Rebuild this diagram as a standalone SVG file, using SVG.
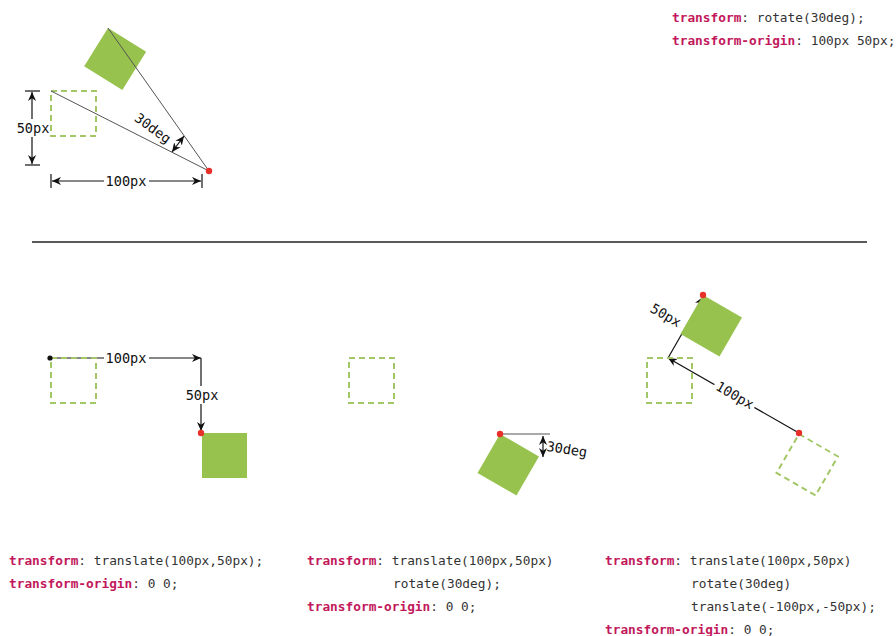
<svg xmlns="http://www.w3.org/2000/svg" width="896" height="636" viewBox="0 0 896 636">
<defs>
<style>
.code{font-family:"DejaVu Sans Mono","Liberation Mono",monospace;font-size:12.8px;fill:#333}
.k{fill:#c2185b;font-weight:bold}
.lbl{font-family:"DejaVu Sans Mono","Liberation Mono",monospace;font-size:13.6px;fill:#111;text-anchor:middle;dominant-baseline:central}
.dash{fill:none;stroke:#a3c766;stroke-width:2;stroke-dasharray:6 4}
.sq{fill:#97c24e}
.thin{stroke:#555;stroke-width:1;fill:none}
.arr{stroke:#111;stroke-width:1.2;fill:none}
.dot{fill:#e8302a}
</style>
<marker id="ah" viewBox="0 0 10 10" refX="10" refY="5" markerWidth="9" markerHeight="9" markerUnits="userSpaceOnUse" orient="auto-start-reverse">
<path d="M0,0.5 L10,5 L0,9.5 L3,5 z" fill="#111"/>
</marker>
</defs>
<rect width="896" height="636" fill="#fff"/>

<g id="top-panel">
<rect class="dash" x="51" y="91" width="45" height="45"/>
<rect class="sq" x="0" y="0" width="45" height="45" transform="translate(108,28) rotate(32)"/>
<line class="thin" x1="51" y1="91" x2="209" y2="171"/>
<line class="thin" x1="108" y1="28" x2="209" y2="171"/>
<circle class="dot" cx="209" cy="171" r="3.2"/>
</g>

<g id="connectors">
<!-- top-left dimensions -->
<line class="arr" x1="25" y1="91" x2="40" y2="91"/>
<line class="arr" x1="25" y1="165" x2="40" y2="165"/>
<line class="arr" x1="32" y1="92" x2="32" y2="164" marker-start="url(#ah)" marker-end="url(#ah)"/>
<line class="arr" x1="51" y1="174" x2="51" y2="188"/>
<line class="arr" x1="202" y1="174" x2="202" y2="188"/>
<line class="arr" x1="52" y1="181" x2="201" y2="181" marker-start="url(#ah)" marker-end="url(#ah)"/>
<line class="arr" x1="172" y1="152" x2="184" y2="136" marker-start="url(#ah)" marker-end="url(#ah)"/>
<!-- bottom-left -->
<line class="arr" x1="50" y1="358" x2="201" y2="358" marker-end="url(#ah)"/>
<line class="arr" x1="201" y1="358" x2="201" y2="431" marker-end="url(#ah)"/>
<!-- middle -->
<line class="thin" x1="500" y1="434" x2="550" y2="434"/>
<line class="arr" x1="543" y1="436" x2="543" y2="457" marker-start="url(#ah)" marker-end="url(#ah)"/>
<!-- right -->
<line class="arr" x1="799" y1="433" x2="668" y2="358" marker-end="url(#ah)"/>
<line class="arr" x1="668" y1="358" x2="703" y2="297" marker-end="url(#ah)"/>
</g>

<g id="top-labels">
<rect x="16" y="119" width="34" height="18" fill="#fff"/>
<text class="lbl" x="33" y="128">50px</text>
<rect x="104" y="172" width="45" height="18" fill="#fff"/>
<text class="lbl" x="126" y="181">100px</text>
<text class="lbl" transform="translate(153,128) rotate(36)">30deg</text>
</g>

<g id="top-code">
<text class="code" x="672" y="22"><tspan class="k">transform</tspan>: rotate(30deg);</text>
<text class="code" x="672" y="45"><tspan class="k">transform-origin</tspan>: 100px 50px;</text>
</g>

<line id="separator" x1="32" y1="242" x2="867" y2="242" stroke="#222" stroke-width="1.6"/>

<g id="panel-left">
<rect class="dash" x="51" y="358" width="45" height="45"/>
<rect class="sq" x="202" y="433" width="45" height="45"/>
<circle cx="50" cy="358" r="2.6" fill="#111"/>
<circle class="dot" cx="201" cy="433" r="3.2"/>
<rect x="104" y="349" width="45" height="18" fill="#fff"/>
<text class="lbl" x="126" y="358">100px</text>
<rect x="185" y="386" width="34" height="18" fill="#fff"/>
<text class="lbl" x="202" y="395">50px</text>
</g>

<g id="panel-middle">
<rect class="dash" x="349" y="358" width="45" height="45"/>
<rect class="sq" x="0" y="0" width="45" height="45" transform="translate(500,434) rotate(30)"/>
<circle class="dot" cx="500" cy="434" r="3.2"/>
<text class="lbl" transform="translate(567,449) rotate(9)">30deg</text>
</g>

<g id="panel-right">
<rect class="dash" x="647" y="358" width="45" height="45"/>
<rect class="sq" x="0" y="0" width="45" height="45" transform="translate(703,295) rotate(30)"/>
<rect class="dash" x="0" y="0" width="45" height="45" transform="translate(799,434) rotate(30)"/>
<circle class="dot" cx="703" cy="295" r="3.2"/>
<circle class="dot" cx="799" cy="433" r="3.2"/>
<rect x="-23" y="-9" width="46" height="18" fill="#fff" transform="translate(735,395) rotate(30)"/>
<text class="lbl" transform="translate(735,395) rotate(30)">100px</text>
<text class="lbl" transform="translate(666,315) rotate(30)">50px</text>
</g>

<g id="bottom-code">
<text class="code" x="9" y="565"><tspan class="k">transform</tspan>: translate(100px,50px);</text>
<text class="code" x="9" y="588"><tspan class="k">transform-origin</tspan>: 0 0;</text>
<text class="code" x="307" y="565"><tspan class="k">transform</tspan>: translate(100px,50px)</text>
<text class="code" x="393" y="588">rotate(30deg);</text>
<text class="code" x="307" y="611"><tspan class="k">transform-origin</tspan>: 0 0;</text>
<text class="code" x="605" y="565"><tspan class="k">transform</tspan>: translate(100px,50px)</text>
<text class="code" x="691" y="588">rotate(30deg)</text>
<text class="code" x="691" y="611">translate(-100px,-50px);</text>
<text class="code" x="605" y="634"><tspan class="k">transform-origin</tspan>: 0 0;</text>
</g>
</svg>
